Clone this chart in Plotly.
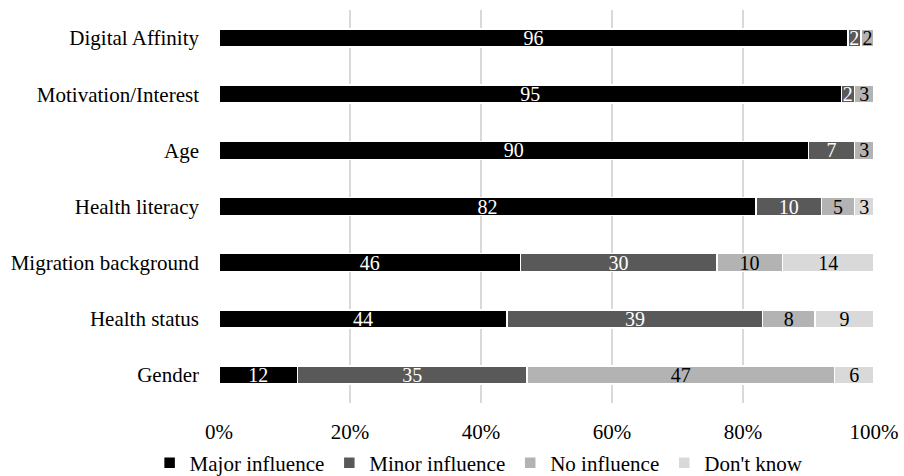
import plotly.graph_objects as go

categories = ["Digital Affinity", "Motivation/Interest", "Age", "Health literacy",
              "Migration background", "Health status", "Gender"]
major = [96, 95, 90, 82, 46, 44, 12]
minor = [2, 2, 7, 10, 30, 39, 35]
no_infl = [2, 3, 3, 5, 10, 8, 47]
dont_know = [0, 0, 0, 3, 14, 9, 6]

series = [
    ("Major influence", major, "#000000", "#FFFFFF"),
    ("Minor influence", minor, "#595959", "#FFFFFF"),
    ("No influence", no_infl, "#B3B3B3", "#000000"),
    ("Don't know", dont_know, "#D9D9D9", "#000000"),
]

font_family = "Liberation Serif"

fig = go.Figure()
for name, vals, color, tcolor in series:
    fig.add_trace(go.Bar(
        y=categories, x=vals, name=name, orientation="h",
        marker=dict(color=color, line=dict(color="#FFFFFF", width=1.5)),
        text=[str(v) if v > 0 else "" for v in vals],
        textposition="inside", insidetextanchor="middle", textangle=0,
        constraintext="none",
        textfont=dict(color=tcolor, size=20, family=font_family),
        hoverinfo="skip",
    ))

fig.update_layout(
    barmode="stack", barnorm="percent",
    bargap=0.68,
    width=904, height=476,
    margin=dict(l=219, r=30, t=10, b=73, autoexpand=False),
    paper_bgcolor="#FFFFFF", plot_bgcolor="#FFFFFF",
    font=dict(family=font_family, size=21, color="#000000"),
    showlegend=True,
    legend=dict(orientation="h", xref="container", yref="container",
                x=0.53, xanchor="center", y=0.027, yanchor="middle",
                font=dict(size=21, family=font_family), traceorder="normal",
                itemwidth=30),
    xaxis=dict(range=[0, 100], tickvals=[0, 20, 40, 60, 80, 100],
               ticktext=["0%", "20%", "40%", "60%", "80%", "100%"],
               showgrid=True, gridcolor="#D9D9D9", gridwidth=2,
               zeroline=False, showline=False, ticks="",
               ticklabelstandoff=14,
               tickfont=dict(size=21, family=font_family)),
    yaxis=dict(categoryorder="array", categoryarray=categories[::-1],
               showgrid=False, zeroline=False, showline=False, ticks="",
               ticklabelstandoff=19,
               tickfont=dict(size=21, family=font_family)),
)

fig.write_html("out.html")
